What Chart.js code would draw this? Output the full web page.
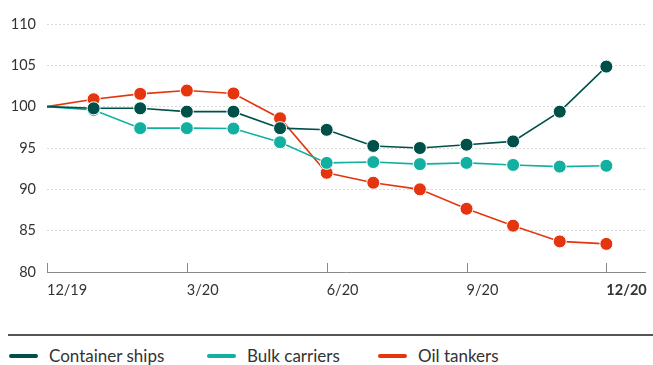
<!DOCTYPE html>
<html>
<head>
<meta charset="utf-8">
<script src="https://cdn.jsdelivr.net/npm/chart.js@4.4.1/dist/chart.umd.min.js"></script>
<style>
  html, body { margin: 0; padding: 0; background: #fff; }
  #wrap { position: relative; width: 653px; height: 365px; overflow: hidden; font-family: Lato, "Open Sans", sans-serif; color: #333; }
  #plot { position: absolute; left: 0; top: 0; }
  #rule { position: absolute; left: 8px; right: 0; top: 334px; height: 2px; background: #555; }
  .item { position: absolute; top: 346px; height: 20px; line-height: 20px; display: flex; align-items: center; font-size: 17px; color: #333; white-space: nowrap; }
  .sw { width: 29px; height: 4px; border-radius: 2px; margin-right: 11px; }
</style>
</head>
<body>
<div id="wrap">
  <canvas id="plot" width="653" height="310"></canvas>
  <div id="rule"></div>
  <div id="legend"></div>
</div>
<script>
// Monthly index values, 12/19 = 100
const months = [0, 1, 2, 3, 4, 5, 6, 7, 8, 9, 10, 11, 12];
const tickMonths = [0, 3, 6, 9, 12];
const tickLabels = ['12/19', '3/20', '6/20', '9/20', '12/20'];
const seriesNames = ['Container ships', 'Bulk carriers', 'Oil tankers'];
const seriesColors = ['#00504a', '#12b0a0', '#e5350f'];
const containerShips = [100, 99.8, 99.8, 99.4, 99.4, 97.4, 97.2, 95.25, 95.0, 95.4, 95.8, 99.4, 104.85];
const bulkCarriers   = [100, 99.6, 97.4, 97.4, 97.35, 95.7, 93.2, 93.3, 93.05, 93.2, 92.95, 92.75, 92.85];
const oilTankers     = [100, 100.9, 101.55, 101.95, 101.6, 98.6, 92.0, 90.8, 90.0, 87.65, 85.6, 83.7, 83.4];
const seriesValues = [containerShips, bulkCarriers, oilTankers];

// Legend below the rule
const legend = document.getElementById('legend');
const legendLeft = [9, 207, 378];
seriesNames.forEach((name, i) => {
  const el = document.createElement('div');
  el.className = 'item';
  el.style.left = legendLeft[i] + 'px';
  el.innerHTML = '<span class="sw" style="background:' + seriesColors[i] + '"></span><span></span>';
  el.lastChild.textContent = name;
  legend.appendChild(el);
});

// Short upward tick marks on the x axis at each quarter
const quarterTicks = {
  id: 'quarterTicks',
  beforeDatasetsDraw(chart) {
    const { ctx, scales: { x }, chartArea } = chart;
    ctx.save();
    ctx.strokeStyle = '#8a8a8a';
    ctx.lineWidth = 1;
    tickMonths.forEach(m => {
      const px = Math.round(x.getPixelForValue(m)) + 0.5;
      ctx.beginPath();
      ctx.moveTo(px, chartArea.bottom);
      ctx.lineTo(px, chartArea.bottom - 9);
      ctx.stroke();
    });
    ctx.restore();
  }
};

const datasets = seriesNames.map((name, i) => ({
  label: name,
  data: months.map((m, j) => ({ x: m, y: seriesValues[i][j] })),
  borderColor: seriesColors[i],
  backgroundColor: seriesColors[i],
  pointBackgroundColor: seriesColors[i],
  pointBorderColor: '#ffffff',
  pointBorderWidth: 1,
  pointRadius: ctx => ctx.dataIndex === 0 ? 0 : 6.5,
  borderWidth: 1.6,
  tension: 0
}));

new Chart(document.getElementById('plot'), {
  type: 'line',
  data: { datasets },
  plugins: [quarterTicks],
  options: {
    responsive: false,
    animation: false,
    devicePixelRatio: 1,
    layout: { padding: { top: 24, right: 0, bottom: 0, left: 0 } },
    plugins: { legend: { display: false }, tooltip: { enabled: false } },
    scales: {
      x: {
        type: 'linear',
        min: 0,
        max: 12.84,
        afterBuildTicks: s => { s.ticks = tickMonths.map(v => ({ value: v })); },
        afterFit: s => { s.height = 38; s.paddingLeft = 0; s.paddingRight = 0; },
        grid: { display: false, drawTicks: false },
        border: { display: true, color: '#8a8a8a', width: 1 },
        ticks: {
          align: 'start',
          padding: 10,
          color: '#333',
          autoSkip: false,
          maxRotation: 0,
          font: ctx => ({ family: 'Lato', size: 14.5, weight: ctx.tick && ctx.tick.value === 12 ? 'bold' : 'normal' }),
          callback: v => tickLabels[tickMonths.indexOf(v)]
        }
      },
      y: {
        min: 80,
        max: 110,
        afterFit: s => { s.width = 47; },
        grid: {
          drawTicks: false,
          color: ctx => ctx.tick && ctx.tick.value === 80 ? 'rgba(0,0,0,0)' : '#d9d9d9',
          lineWidth: 1
        },
        border: { display: false, dash: [2, 2] },
        ticks: {
          stepSize: 5,
          padding: 11,
          color: '#333',
          font: { family: 'Lato', size: 14.5 }
        }
      }
    }
  }
});
</script>
</body>
</html>
